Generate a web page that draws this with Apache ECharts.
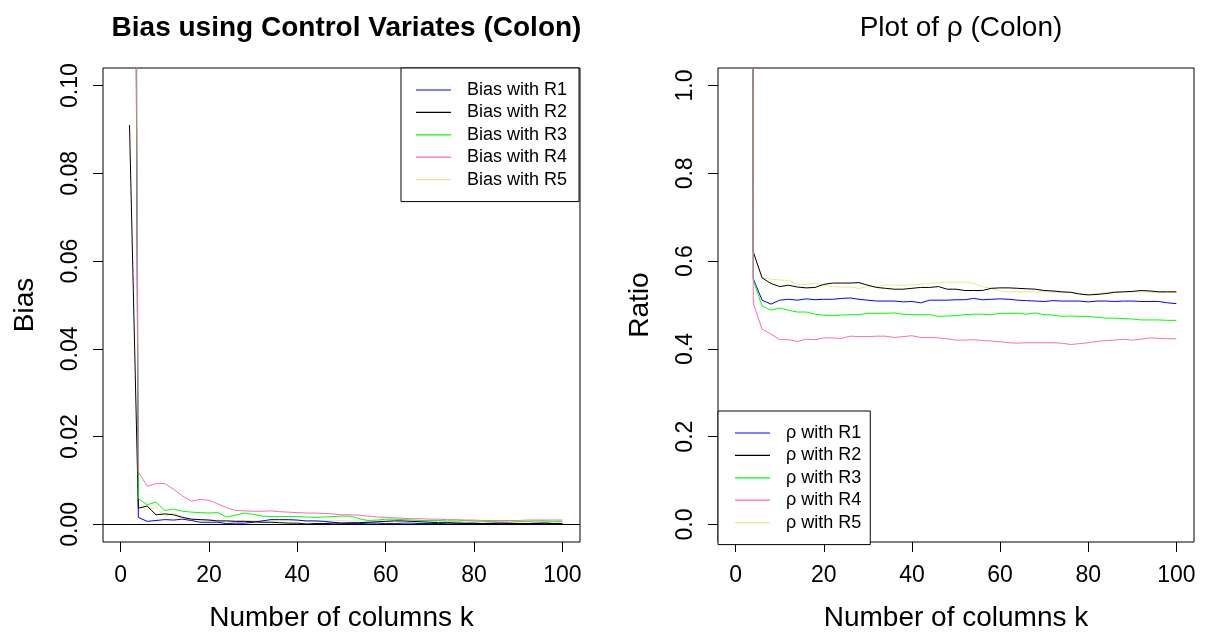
<!DOCTYPE html>
<html>
<head>
<meta charset="utf-8">
<script src="https://cdn.jsdelivr.net/npm/echarts@6/dist/echarts.min.js"></script>
<style>
html,body{margin:0;padding:0;background:#fff;}
#chart{width:1207px;height:637px;}
</style>
</head>
<body>
<div id="chart"></div>
<script>
// ---- data ----
var kValues = [2,4,6,8,10,12,14,16,18,20,22,24,26,28,30,32,34,36,38,40,42,44,46,48,50,52,54,56,58,60,62,64,66,68,70,72,74,76,78,80,82,84,86,88,90,92,94,96,98,100];

var biasR1 = [0.44,0.0016,0.0007,0.0009,0.0011,0.0010,0.0012,0.0009,0.0005,0.0005,
  0.0005,0.0002,0.0003,0.0003,0.0005,0.0008,0.0011,0.0011,0.0011,0.0010,
  0.0008,0.0008,0.0007,0.0005,0.0003,0.0002,0.0002,0.0003,0.0003,0.0002,
  0.0002,0.0003,0.0003,0.0002,0.0002,0.0002,0.0003,0.0003,0.0002,0.0002,
  0.0002,0.0003,0.0003,0.0002,0.0002,0.0002,0.0003,0.0003,0.0002,0.0002];
var biasR2 = [0.091,0.0037,0.0042,0.0022,0.0024,0.0022,0.0016,0.0012,0.0011,0.0010,
  0.0008,0.0008,0.0007,0.0007,0.0006,0.0005,0.0005,0.0004,0.0003,0.0003,
  0.0001,0.0002,0.0002,0.0003,0.0003,0.0004,0.0004,0.0005,0.0006,0.0007,
  0.0008,0.0008,0.0007,0.0006,0.0005,0.0004,0.0004,0.0003,0.0003,0.0003,
  0.0002,0.0002,0.0003,0.0003,0.0002,0.0002,0.0002,0.0003,0.0002,0.0002];
var biasR3 = [0.45,0.0059,0.0045,0.0051,0.0032,0.0035,0.0030,0.0028,0.0027,0.0026,
  0.0027,0.0017,0.0021,0.0026,0.0023,0.0019,0.0018,0.0018,0.0018,0.0018,
  0.0017,0.0016,0.0017,0.0018,0.0019,0.0019,0.0013,0.0009,0.0010,0.0012,
  0.0012,0.0011,0.0010,0.0009,0.0009,0.0009,0.0008,0.0008,0.0009,0.0008,
  0.0007,0.0007,0.0008,0.0008,0.0007,0.0007,0.0008,0.0008,0.0007,0.0007];
var biasR4 = [0.52,0.0120,0.0087,0.0093,0.0093,0.0080,0.0065,0.0053,0.0057,0.0055,
  0.0047,0.0038,0.0032,0.0031,0.0030,0.0030,0.0031,0.0029,0.0028,0.0027,
  0.0026,0.0026,0.0025,0.0024,0.0022,0.0022,0.0021,0.0019,0.0017,0.0016,
  0.0015,0.0014,0.0013,0.0013,0.0012,0.0012,0.0011,0.0011,0.0010,0.0010,
  0.0009,0.0009,0.0009,0.0009,0.0009,0.0010,0.0010,0.0010,0.0010,0.0010];
var biasR5 = [0.44,0.0046,0.0033,0.0039,0.0018,0.0026,0.0018,0.0012,0.0010,0.0010,
  0.0010,0.0009,0.0009,0.0009,0.0009,0.0008,0.0008,0.0008,0.0008,0.0009,
  0.0008,0.0008,0.0008,0.0008,0.0009,0.0008,0.0008,0.0008,0.0008,0.0008,
  0.0008,0.0008,0.0008,0.0008,0.0007,0.0007,0.0006,0.0006,0.0006,0.0006,
  0.0006,0.0006,0.0006,0.0005,0.0005,0.0006,0.0006,0.0006,0.0005,0.0005];

var rhoR1 = [60,0.560,0.511,0.502,0.511,0.513,0.511,0.514,0.512,0.513,
  0.513,0.515,0.516,0.513,0.511,0.509,0.509,0.509,0.507,0.508,
  0.505,0.511,0.511,0.511,0.512,0.512,0.515,0.512,0.513,0.514,
  0.513,0.511,0.510,0.509,0.508,0.510,0.509,0.509,0.509,0.507,
  0.509,0.509,0.508,0.509,0.509,0.508,0.508,0.508,0.505,0.503];
var rhoR2 = [60,0.621,0.562,0.549,0.542,0.545,0.541,0.539,0.540,0.547,
  0.550,0.550,0.550,0.551,0.545,0.540,0.538,0.536,0.536,0.538,
  0.540,0.540,0.542,0.536,0.536,0.533,0.533,0.533,0.538,0.539,
  0.539,0.538,0.537,0.536,0.533,0.532,0.530,0.529,0.525,0.523,
  0.524,0.526,0.529,0.530,0.531,0.533,0.532,0.530,0.530,0.530];
var rhoR3 = [60,0.557,0.498,0.488,0.493,0.488,0.484,0.484,0.479,0.477,
  0.476,0.477,0.478,0.478,0.481,0.481,0.481,0.482,0.479,0.478,
  0.478,0.478,0.474,0.475,0.476,0.478,0.479,0.479,0.478,0.481,
  0.481,0.481,0.479,0.482,0.478,0.477,0.474,0.475,0.474,0.474,
  0.472,0.470,0.470,0.469,0.468,0.466,0.466,0.466,0.465,0.465];
var rhoR4 = [60,0.504,0.445,0.434,0.421,0.421,0.417,0.422,0.421,0.425,
  0.425,0.424,0.429,0.428,0.428,0.429,0.429,0.426,0.428,0.430,
  0.426,0.426,0.425,0.423,0.420,0.420,0.421,0.419,0.418,0.416,
  0.414,0.413,0.414,0.414,0.414,0.414,0.413,0.410,0.412,0.414,
  0.417,0.419,0.420,0.422,0.420,0.422,0.425,0.424,0.423,0.423];
var rhoR5 = [60,0.621,0.562,0.559,0.557,0.556,0.547,0.547,0.550,0.545,
  0.542,0.541,0.541,0.538,0.542,0.542,0.546,0.545,0.545,0.546,
  0.547,0.549,0.551,0.552,0.552,0.552,0.550,0.542,0.538,0.532,
  0.530,0.530,0.530,0.530,0.530,0.529,0.529,0.529,0.526,0.524,
  0.526,0.529,0.530,0.530,0.530,0.530,0.529,0.529,0.529,0.528];

var xTicks = [0,20,40,60,80,100];
var biasTicks = [0,0.02,0.04,0.06,0.08,0.10];
var biasTickLabels = ['0.00','0.02','0.04','0.06','0.08','0.10'];
var rhoTicks = [0,0.2,0.4,0.6,0.8,1.0];
var rhoTickLabels = ['0.0','0.2','0.4','0.6','0.8','1.0'];

var biasNames = ['Bias with R1','Bias with R2','Bias with R3','Bias with R4','Bias with R5'];
var rhoNames = ['\u03C1 with R1','\u03C1 with R2','\u03C1 with R3','\u03C1 with R4','\u03C1 with R5'];
var colors = ['#0000FF','#000000','#00FF00','#FF69B4','#F0E68C'];
var zOrder = [3,3,3,3,2];

// ---- build ----
var FONT = "'Liberation Sans', Arial, Helvetica, sans-serif";
function pairs(vals){ return kValues.map(function(k,i){ return [k, vals[i]]; }); }
function lookup(ticks, labels){ return function(v){ for (var i=0;i<ticks.length;i++){ if (Math.abs(ticks[i]-v)<1e-9) return labels[i]; } return ''; }; }

var biasData = [biasR1,biasR2,biasR3,biasR4,biasR5];
var rhoData = [rhoR1,rhoR2,rhoR3,rhoR4,rhoR5];

function xAxisFor(gi){
  return {
    type:'value', gridIndex:gi, min:-4, max:104, position:'bottom',
    name:'Number of columns k', nameLocation:'middle', nameGap:62,
    nameTextStyle:{fontFamily:FONT, fontSize:28, color:'#000'},
    axisLine:{show:false, onZero:false}, splitLine:{show:false},
    axisTick:{show:true, customValues:xTicks, length:10, inside:false, lineStyle:{color:'#000', width:1}},
    axisLabel:{show:true, customValues:xTicks, margin:22, fontFamily:FONT, fontSize:23, color:'#000'}
  };
}
function yAxisFor(gi, min, max, ticks, labels, name){
  return {
    type:'value', gridIndex:gi, min:min, max:max, position:'left',
    name:name, nameLocation:'middle', nameGap:64, nameRotate:90,
    nameTextStyle:{fontFamily:FONT, fontSize:28, color:'#000'},
    axisLine:{show:false, onZero:false}, splitLine:{show:false},
    axisTick:{show:true, customValues:ticks, length:10, inside:false, lineStyle:{color:'#000', width:1}},
    axisLabel:{show:true, customValues:ticks, rotate:90, margin:21, fontFamily:FONT, fontSize:23, color:'#000',
      formatter: lookup(ticks, labels)}
  };
}

var series = [];
biasData.forEach(function(d,i){
  series.push({type:'line', name:biasNames[i], xAxisIndex:0, yAxisIndex:0, data:pairs(d),
    showSymbol:false, symbol:'none', clip:true, animation:false,
    lineStyle:{color:colors[i], width:1}, itemStyle:{color:colors[i]}, z:zOrder[i]});
});
// horizontal reference line at 0
series[1].markLine = {silent:true, symbol:['none','none'], label:{show:false},
  lineStyle:{color:'#000', width:1, type:'solid'}, data:[{yAxis:0}], animation:false};
rhoData.forEach(function(d,i){
  series.push({type:'line', name:rhoNames[i], xAxisIndex:1, yAxisIndex:1, data:pairs(d),
    showSymbol:false, symbol:'none', clip:true, animation:false,
    lineStyle:{color:colors[i], width:1}, itemStyle:{color:colors[i]}, z:zOrder[i]});
});

var legendCommon = {
  orient:'vertical', icon:'rect', itemWidth:35, itemHeight:1.2, itemGap:4.4,
  borderColor:'#000', borderWidth:1, backgroundColor:'#fff', borderRadius:0,
  selectedMode:false, z:5,
  textStyle:{fontFamily:FONT, fontSize:18, color:'#000', lineHeight:18, padding:[0,0,0,11]}
};

var option = {
  backgroundColor:'#fff',
  animation:false,
  title:[
    {text:'Bias using Control Variates (Colon)', left:341.5, top:9, textAlign:'center',
     textStyle:{fontFamily:FONT, fontSize:28, fontWeight:'bold', color:'#000'}},
    {text:'Plot of \u03C1 (Colon)', left:956, top:9, textAlign:'center',
     textStyle:{fontFamily:FONT, fontSize:28, fontWeight:'normal', color:'#000'}}
  ],
  grid:[
    {left:103, top:68, width:477, height:477, show:true, borderColor:'#000', borderWidth:1, backgroundColor:'transparent', containLabel:false},
    {left:718, top:68, width:476, height:477, show:true, borderColor:'#000', borderWidth:1, backgroundColor:'transparent', containLabel:false}
  ],
  xAxis:[xAxisFor(0), xAxisFor(1)],
  yAxis:[
    yAxisFor(0, -0.004, 0.104, biasTicks, biasTickLabels, 'Bias'),
    yAxisFor(1, -0.04, 1.04, rhoTicks, rhoTickLabels, 'Ratio')
  ],
  legend:[
    Object.assign({}, legendCommon, {data:biasNames, left:401, top:68, padding:[13,12,13,15]}),
    Object.assign({}, legendCommon, {data:rhoNames, left:718, top:411, padding:[13,9,13,17]})
  ],
  series:series
};

var chart = echarts.init(document.getElementById('chart'), null, {renderer:'canvas'});
chart.setOption(option);
</script>
</body>
</html>
